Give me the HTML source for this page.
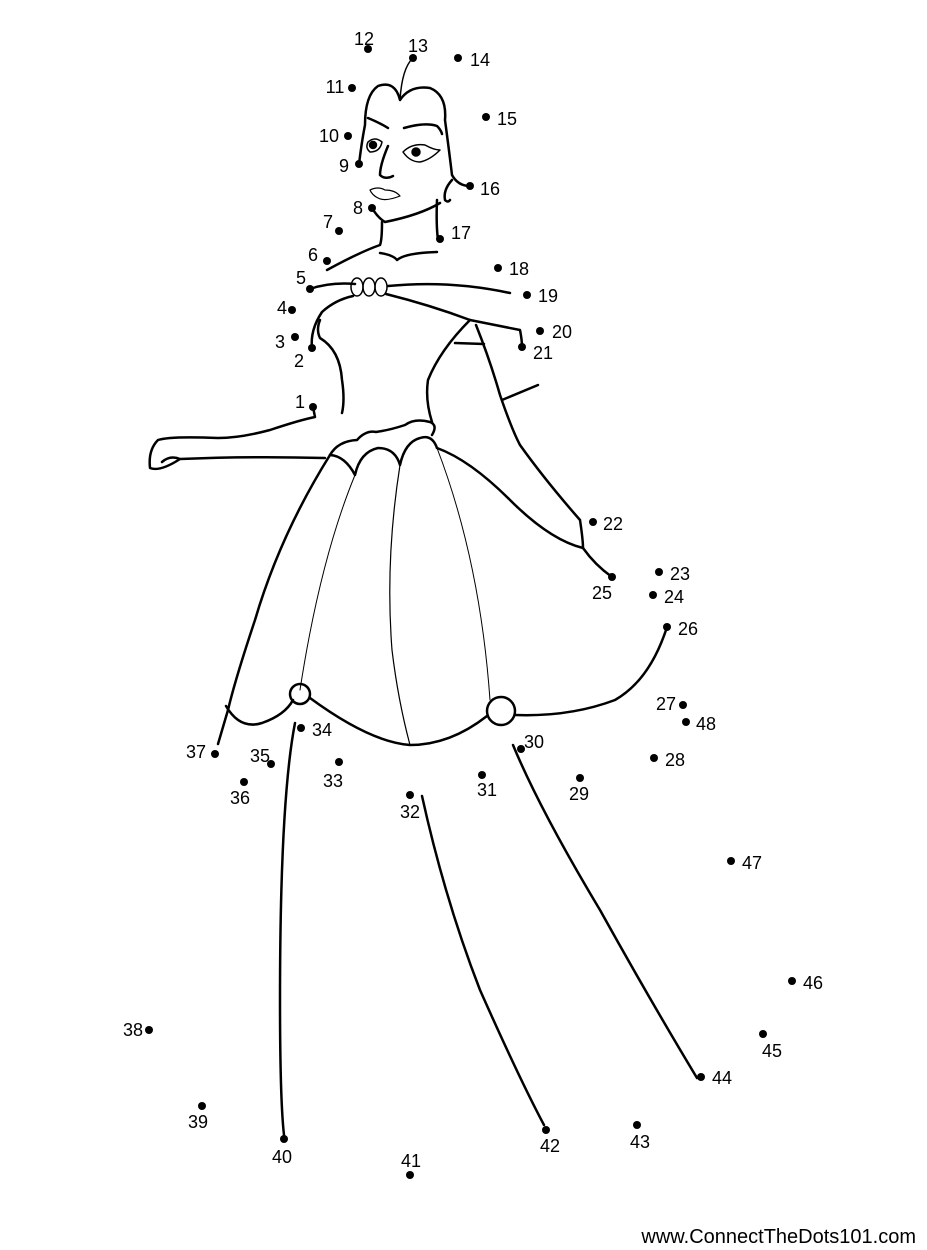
<!DOCTYPE html>
<html><head><meta charset="utf-8"><style>
html,body{margin:0;padding:0;background:#fff;}
svg{display:block}
text{font-family:"Liberation Sans",sans-serif;font-size:18px;fill:#000}
</style></head><body>
<svg width="927" height="1250" viewBox="0 0 927 1250">
<g fill="none" stroke="#000" stroke-width="2.5" stroke-linecap="round" stroke-linejoin="round">
<path d="M359,164 Q362,140 365,125 Q365,95 378,86 Q395,80 400,100 Q410,85 430,88 Q447,95 445,120 Q449,150 452,175 Q458,186 470,186"/>
<path d="M413,58 Q402,68 400,100" stroke-width="1.5"/>
<path d="M452,180 Q443,190 445,200 Q448,203 450,200"/>
<path d="M372,208 Q378,218 385,222 Q420,215 440,203"/>
<path d="M368,118 Q380,123 388,128"/>
<path d="M404,128 Q425,122 437,126 Q441,130 442,134"/>
<path d="M368,142 Q375,136 382,142 Q380,152 370,152 Q365,148 368,142Z" stroke-width="1.5"/>
<path d="M403,152 Q412,143 425,145 Q434,150 440,150 Q430,160 420,162 Q410,162 403,152Z" stroke-width="1.5"/>
<circle cx="373" cy="145" r="3" fill="#000"/><circle cx="416" cy="152" r="3.5" fill="#000"/>
<path d="M388,146 Q380,165 380,175 Q385,180 393,176"/>
<path d="M370,190 Q378,186 385,190 Q395,190 400,196 Q385,202 378,198 Q372,195 370,190Z" stroke-width="1.2"/>
<path d="M382,222 Q382,240 380,245 Q360,252 327,270"/>
<path d="M437,200 Q436,225 438,240"/>
<path d="M380,253 Q393,255 397,260 Q405,253 437,252"/>
<path d="M310,289 Q330,282 355,284"/>
<path d="M388,286 Q450,280 510,293"/>
<ellipse cx="357" cy="287" rx="6" ry="9" stroke-width="1.5"/>
<ellipse cx="369" cy="287" rx="6" ry="9" stroke-width="1.5"/>
<ellipse cx="381" cy="287" rx="6" ry="9" stroke-width="1.5"/>
<path d="M353,296 Q335,300 322,312 Q310,330 312,348"/>
<path d="M386,294 Q430,305 470,320 Q495,325 520,330 Q522,340 522,347"/>
<path d="M320,320 Q316,330 320,338 Q340,350 342,380 Q345,400 342,413"/>
<path d="M470,320 Q440,350 428,380 Q425,400 432,422"/>
<path d="M455,343 L484,344"/>
<path d="M476,325 Q490,360 500,395 Q512,430 520,445 Q545,480 580,520 Q583,540 583,548 Q595,565 612,577"/>
<path d="M502,400 L538,385"/>
<path d="M313,407 L315,417 Q300,420 270,430 Q240,438 218,438 Q170,436 158,440 Q148,450 150,468 Q160,472 180,459 Q170,455 162,462 M180,459 Q250,456 325,458"/>
<path d="M330,455 Q338,441 357,440 Q366,430 376,432 Q390,430 405,425 Q415,418 430,422 Q438,425 432,435"/>
<path d="M330,455 Q345,456 355,475 Q360,452 378,448 Q395,448 400,465 Q405,442 420,438 Q432,434 437,448"/>
<path d="M330,455 Q280,535 255,620 Q235,680 228,710 L218,744"/>
<path d="M437,448 Q470,460 510,500 Q550,540 583,548"/>
<path d="M355,475 Q320,560 300,690" stroke-width="1"/>
<path d="M400,465 Q385,560 392,650 Q398,700 410,745" stroke-width="1.2"/>
<path d="M437,448 Q480,560 490,700" stroke-width="1"/>
<path d="M226,706 Q240,730 262,723 Q285,715 293,700"/>
<circle cx="300" cy="694" r="10"/>
<path d="M310,698 Q370,742 410,745 Q450,745 487,716"/>
<circle cx="501" cy="711" r="14"/>
<path d="M515,715 Q570,717 615,700 Q650,680 667,627"/>
<path d="M295,723 Q280,800 280,1000 Q280,1100 284,1135"/>
<path d="M422,796 Q445,900 480,990 Q520,1080 544,1125"/>
<path d="M513,745 Q540,810 600,910 Q650,1000 697,1078"/>
</g>
<g fill="#000">
<circle cx="313" cy="407" r="4"/><circle cx="312" cy="348" r="4"/><circle cx="295" cy="337" r="4"/><circle cx="292" cy="310" r="4"/><circle cx="310" cy="289" r="4"/><circle cx="327" cy="261" r="4"/><circle cx="339" cy="231" r="4"/><circle cx="372" cy="208" r="4"/><circle cx="359" cy="164" r="4"/><circle cx="348" cy="136" r="4"/><circle cx="352" cy="88" r="4"/><circle cx="368" cy="49" r="4"/><circle cx="413" cy="58" r="4"/><circle cx="458" cy="58" r="4"/><circle cx="486" cy="117" r="4"/><circle cx="470" cy="186" r="4"/><circle cx="440" cy="239" r="4"/><circle cx="498" cy="268" r="4"/><circle cx="527" cy="295" r="4"/><circle cx="540" cy="331" r="4"/><circle cx="522" cy="347" r="4"/><circle cx="593" cy="522" r="4"/><circle cx="659" cy="572" r="4"/><circle cx="653" cy="595" r="4"/><circle cx="612" cy="577" r="4"/><circle cx="667" cy="627" r="4"/><circle cx="683" cy="705" r="4"/><circle cx="654" cy="758" r="4"/><circle cx="580" cy="778" r="4"/><circle cx="521" cy="749" r="4"/><circle cx="482" cy="775" r="4"/><circle cx="410" cy="795" r="4"/><circle cx="339" cy="762" r="4"/><circle cx="301" cy="728" r="4"/><circle cx="271" cy="764" r="4"/><circle cx="244" cy="782" r="4"/><circle cx="215" cy="754" r="4"/><circle cx="149" cy="1030" r="4"/><circle cx="202" cy="1106" r="4"/><circle cx="284" cy="1139" r="4"/><circle cx="410" cy="1175" r="4"/><circle cx="546" cy="1130" r="4"/><circle cx="637" cy="1125" r="4"/><circle cx="701" cy="1077" r="4"/><circle cx="763" cy="1034" r="4"/><circle cx="792" cy="981" r="4"/><circle cx="731" cy="861" r="4"/><circle cx="686" cy="722" r="4"/>
</g>
<g text-anchor="middle">
<text x="300" y="408">1</text><text x="299" y="367">2</text><text x="280" y="348">3</text><text x="282" y="314">4</text><text x="301" y="284">5</text><text x="313" y="261">6</text><text x="328" y="228">7</text><text x="358" y="214">8</text><text x="344" y="172">9</text><text x="329" y="142">10</text><text x="335" y="93">11</text><text x="364" y="45">12</text><text x="418" y="52">13</text><text x="480" y="66">14</text><text x="507" y="125">15</text><text x="490" y="195">16</text><text x="461" y="239">17</text><text x="519" y="275">18</text><text x="548" y="302">19</text><text x="562" y="338">20</text><text x="543" y="359">21</text><text x="613" y="530">22</text><text x="680" y="580">23</text><text x="674" y="603">24</text><text x="602" y="599">25</text><text x="688" y="635">26</text><text x="666" y="710">27</text><text x="675" y="766">28</text><text x="579" y="800">29</text><text x="534" y="748">30</text><text x="487" y="796">31</text><text x="410" y="818">32</text><text x="333" y="787">33</text><text x="322" y="736">34</text><text x="260" y="762">35</text><text x="240" y="804">36</text><text x="196" y="758">37</text><text x="133" y="1036">38</text><text x="198" y="1128">39</text><text x="282" y="1163">40</text><text x="411" y="1167">41</text><text x="550" y="1152">42</text><text x="640" y="1148">43</text><text x="722" y="1084">44</text><text x="772" y="1057">45</text><text x="813" y="989">46</text><text x="752" y="869">47</text><text x="706" y="730">48</text>
</g>
<text x="916" y="1243" text-anchor="end" style="font-size:20px">www.ConnectTheDots101.com</text>
</svg>
</body></html>
